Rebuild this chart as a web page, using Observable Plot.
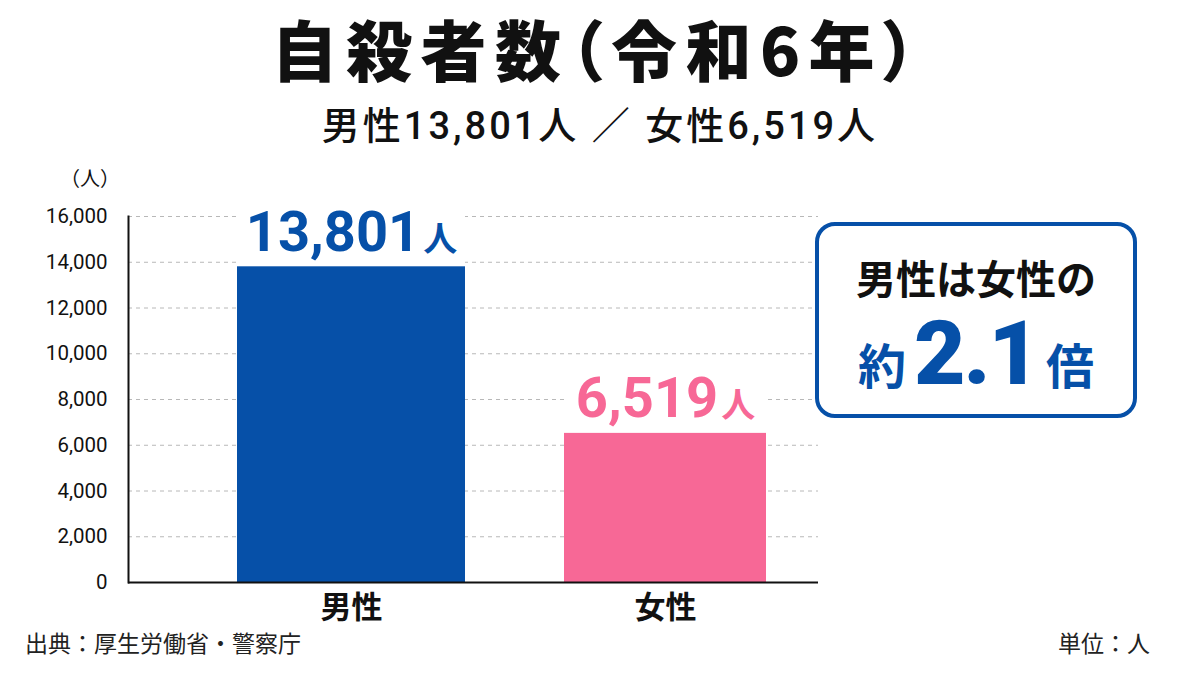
<!DOCTYPE html>
<html><head><meta charset="utf-8">
<script src="https://cdn.jsdelivr.net/npm/d3@7"></script>
<script src="https://cdn.jsdelivr.net/npm/@observablehq/plot@0.6"></script>
<style>
html,body{margin:0;padding:0;background:#fff;}
#root{position:relative;width:1200px;height:675px;overflow:hidden;font-family:Roboto,"Noto Sans CJK JP",sans-serif;color:#111;}
.abs{position:absolute;white-space:nowrap;}
#title{left:0;width:1196px;top:9px;text-align:center;font-family:"Noto Sans CJK JP",sans-serif;font-weight:900;font-size:66px;line-height:76px;letter-spacing:8.5px;font-feature-settings:"palt";}
#subtitle{left:0;width:1200px;top:104px;text-align:center;font-family:Roboto,"Noto Sans CJK JP",sans-serif;font-weight:500;font-size:38px;line-height:44px;letter-spacing:3px;}
#unitY{left:60px;top:164px;font-family:"Noto Sans CJK JP",sans-serif;font-size:20px;line-height:28px;}
#chart{position:absolute;left:0;top:150px;}
#box{position:absolute;left:815px;top:222px;width:314px;height:188px;border:4px solid #0650a8;border-radius:20px;box-sizing:content-box;}
#box .l1{position:absolute;left:0;width:100%;top:26px;text-align:center;font-family:"Noto Sans CJK JP",sans-serif;font-weight:700;font-size:40px;line-height:50px;color:#111;}
#box .l2{position:absolute;left:0;width:100%;top:78px;text-align:center;color:#0650a8;font-weight:700;line-height:100px;}
#box .l2 .k{font-family:"Noto Sans CJK JP",sans-serif;font-size:48px;font-weight:700;}
#box .l2 .n{font-family:Roboto,sans-serif;font-size:89px;font-weight:900;letter-spacing:-2px;margin:0 8px 0 8px;}
#source{left:25px;top:626px;font-family:"Noto Sans CJK JP",sans-serif;font-size:23px;line-height:32px;color:#222;}
#unit{right:50px;top:626px;font-family:"Noto Sans CJK JP",sans-serif;font-size:23px;line-height:32px;color:#222;}
</style></head>
<body>
<div id="root">
  <div id="title" class="abs">自殺者数（令和6年）</div>
  <div id="subtitle" class="abs"></div>
  <div id="unitY" class="abs">（人）</div>
  <div id="chart"></div>
  <div id="box"><div class="l1">男性は女性の</div><div class="l2"><span class="k">約</span><span class="n"></span><span class="k">倍</span></div></div>
  <div id="source" class="abs">出典：厚生労働省・警察庁</div>
  <div id="unit" class="abs">単位：人</div>
</div>
<script>
// ---- data ----
const categories = ["男性", "女性"];
const values = [13801, 6519];
const colors = ["#0650a8", "#f76896"];
const yTicks = [0, 2000, 4000, 6000, 8000, 10000, 12000, 14000, 16000];
const ratioText = "2.1";

const fmt = d3.format(",");
const data = categories.map((c, i) => ({sex: c, value: values[i], color: colors[i]}));

document.getElementById("subtitle").textContent =
  `${categories[0]}${fmt(values[0])}人 ／ ${categories[1]}${fmt(values[1])}人`;
document.querySelector("#box .n").textContent = ratioText;

const insets = [43, 56];
const barMarks = data.flatMap((d, i) => [
  Plot.rectY([d], {x: "sex", y1: "value", y2: d => d.value + 2400, fill: "white", insetLeft: insets[i], insetRight: insets[i]}),
  Plot.barY([d], {x: "sex", y: "value", fill: "color", insetLeft: insets[i], insetRight: insets[i]})
]);

const chart = Plot.plot({
  width: 1200,
  height: 480,
  marginLeft: 128,
  marginRight: 382,
  marginTop: 66,
  marginBottom: 48,
  style: {fontFamily: 'Roboto, "Noto Sans CJK JP", sans-serif', color: "#111", background: "transparent"},
  x: {type: "band", domain: categories, range: [194, 822], padding: 0},
  y: {domain: [0, 16000], ticks: yTicks},
  color: {type: "identity"},
  marks: [
    Plot.gridY(yTicks.filter(t => t > 0), {stroke: "#b8b8b8", strokeOpacity: 1, strokeDasharray: "4,4", strokeWidth: 1}),
    ...barMarks,
    Plot.text(data, {x: "sex", y: "value", text: d => fmt(d.value) + "人", fill: "color", lineAnchor: "bottom", dy: -16, fontSize: 56, fontWeight: 700}),
    Plot.ruleY([0], {stroke: "#111", strokeWidth: 2}),
    Plot.frame({anchor: "left", stroke: "#111", strokeWidth: 2}),
    Plot.axisY({ticks: yTicks, tickSize: 0, tickPadding: 21, fontSize: 20.5, tickFormat: fmt, label: null}),
    Plot.axisX({tickSize: 0, tickPadding: 13, fontSize: 31, fontWeight: 700, label: null, fontFamily: '"Noto Sans CJK JP", sans-serif'})
  ]
});
document.getElementById("chart").appendChild(chart);

// split value labels into number + smaller unit
d3.select(chart).selectAll("text").each(function() {
  const t = this.textContent;
  if (!/^[\d,]+人$/.test(t)) return;
  const num = t.replace("人", "");
  const sel = d3.select(this);
  sel.text(null);
  sel.append("tspan").text(num);
  sel.append("tspan").style("font-size", "34px").style("font-family", '"Noto Sans CJK JP", sans-serif').attr("dx", 3).text("人");
});
</script>
</body></html>
